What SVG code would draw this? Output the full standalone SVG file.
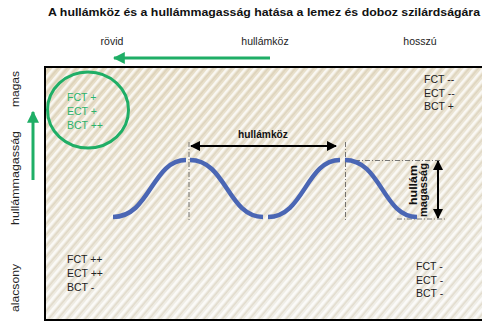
<svg xmlns="http://www.w3.org/2000/svg" width="482" height="322" viewBox="0 0 482 322">
<defs>
<linearGradient id="bg" x1="0" y1="0" x2="0.3" y2="1">
<stop offset="0" stop-color="#e6dcc4"/>
<stop offset="0.5" stop-color="#ebe5d6"/>
<stop offset="1" stop-color="#efede6"/>
</linearGradient>
<pattern id="stripes" width="7" height="7" patternUnits="userSpaceOnUse" patternTransform="rotate(40)">
<rect x="0" y="0" width="2.5" height="7" fill="#ffffff" opacity="0.75"/>
<rect x="3.5" y="0" width="1.5" height="7" fill="#c9bb9c" opacity="0.35"/>
</pattern>
<marker id="ab" viewBox="0 0 10 10" refX="9" refY="5" markerWidth="5" markerHeight="5" orient="auto-start-reverse">
<path d="M0,0 L10,5 L0,10 z" fill="#000"/>
</marker>
<marker id="ag" viewBox="0 0 10 10" refX="9" refY="5" markerWidth="4" markerHeight="4" orient="auto-start-reverse">
<path d="M0,0 L10,5 L0,10 z" fill="#1fae66"/>
</marker>
<style>
text{font-family:"Liberation Sans",Arial,sans-serif;}
.t{font-size:10.5px;fill:#222;}
.g{font-size:10.5px;fill:#2cb36c;}
.ax{font-size:10.5px;fill:#222;}
.b{font-weight:bold;fill:#111;}
.wave{fill:none;stroke:#4a66b4;stroke-width:4.5;stroke-linecap:butt;}
.dd{stroke:#555;stroke-width:0.8;stroke-dasharray:5,2,1,2;fill:none;}
.arr{stroke:#000;stroke-width:2;fill:none;}
.garr{stroke:#1fae66;stroke-width:3;fill:none;}
</style>
</defs>

<text x="48" y="16" class="b" font-size="11.5" textLength="432" lengthAdjust="spacingAndGlyphs">A hullámköz és a hullámmagasság hatása a lemez és doboz szilárdságára</text>

<g id="top-axis">
<text x="112" y="45" class="ax" text-anchor="middle">rövid</text>
<text x="265" y="45" class="ax" text-anchor="middle">hullámköz</text>
<text x="420" y="45" class="ax" text-anchor="middle">hosszú</text>
</g>

<g id="left-axis">
<text class="ax" text-anchor="middle" transform="translate(19,89) rotate(-90)" textLength="36" lengthAdjust="spacingAndGlyphs">magas</text>
<text class="ax" text-anchor="middle" transform="translate(19,178) rotate(-90)" textLength="94" lengthAdjust="spacingAndGlyphs">hullámmagasság</text>
<text class="ax" text-anchor="middle" transform="translate(19,288) rotate(-90)" textLength="48" lengthAdjust="spacingAndGlyphs">alacsony</text>
</g>

<g id="panel">
<rect x="45" y="67" width="460" height="253" fill="url(#bg)"/>
<rect x="45" y="67" width="460" height="253" fill="url(#stripes)"/>
<rect x="45" y="67" width="460" height="253" fill="none" stroke="#000" stroke-width="2"/>
</g>

<g id="connectors">
<line x1="270" y1="58" x2="114" y2="58" class="garr" marker-end="url(#ag)"/>
<line x1="33" y1="180" x2="33" y2="112" class="garr" marker-end="url(#ag)"/>
<line x1="191" y1="146" x2="336" y2="146" class="arr" marker-start="url(#ab)" marker-end="url(#ab)"/>
<line x1="438" y1="161" x2="438" y2="218" class="arr" marker-start="url(#ab)" marker-end="url(#ab)"/>
<line x1="189" y1="142" x2="189" y2="220" class="dd"/>
<line x1="345.5" y1="142" x2="345.5" y2="220" class="dd"/>
<line x1="345" y1="160.5" x2="441" y2="160.5" class="dd"/>
<line x1="397" y1="219" x2="446" y2="219" class="dd"/>
</g>

<g id="wave">
<path class="wave" d="M113,217 C150,217 152,160 186,160"/>
<path class="wave" d="M190,160 C226,160 228,217 263,217"/>
<path class="wave" d="M268,217 C304,217 306,160 340,160"/>
<path class="wave" d="M345,160 C381,160 383,217 417,217"/>
</g>

<g id="label-hullamkoz">
<text x="263" y="138" class="b" font-size="10.2" text-anchor="middle">hullámköz</text>
</g>
<g id="label-magassag">
<text class="b" font-size="10.5" text-anchor="middle" transform="translate(416.5,185) rotate(-90)" textLength="40" lengthAdjust="spacingAndGlyphs">hullám</text>
<text class="b" font-size="10.5" text-anchor="middle" transform="translate(427,190) rotate(-90)" textLength="54" lengthAdjust="spacingAndGlyphs">magasság</text>
</g>

<g id="circle-tl">
<ellipse cx="88" cy="110" rx="40.5" ry="38" fill="none" stroke="#1fae66" stroke-width="3"/>
<text x="67" y="101" class="g">FCT +</text>
<text x="67" y="115" class="g">ECT +</text>
<text x="67" y="129" class="g">BCT ++</text>
</g>

<g id="tr">
<text x="424" y="83" class="t">FCT --</text>
<text x="424" y="97" class="t">ECT --</text>
<text x="424" y="110" class="t">BCT +</text>
</g>

<g id="bl">
<text x="67" y="263" class="t">FCT ++</text>
<text x="67" y="277" class="t">ECT ++</text>
<text x="67" y="291" class="t">BCT -</text>
</g>

<g id="br">
<text x="416" y="270" class="t">FCT -</text>
<text x="416" y="284" class="t">ECT -</text>
<text x="416" y="297" class="t">BCT -</text>
</g>
</svg>
